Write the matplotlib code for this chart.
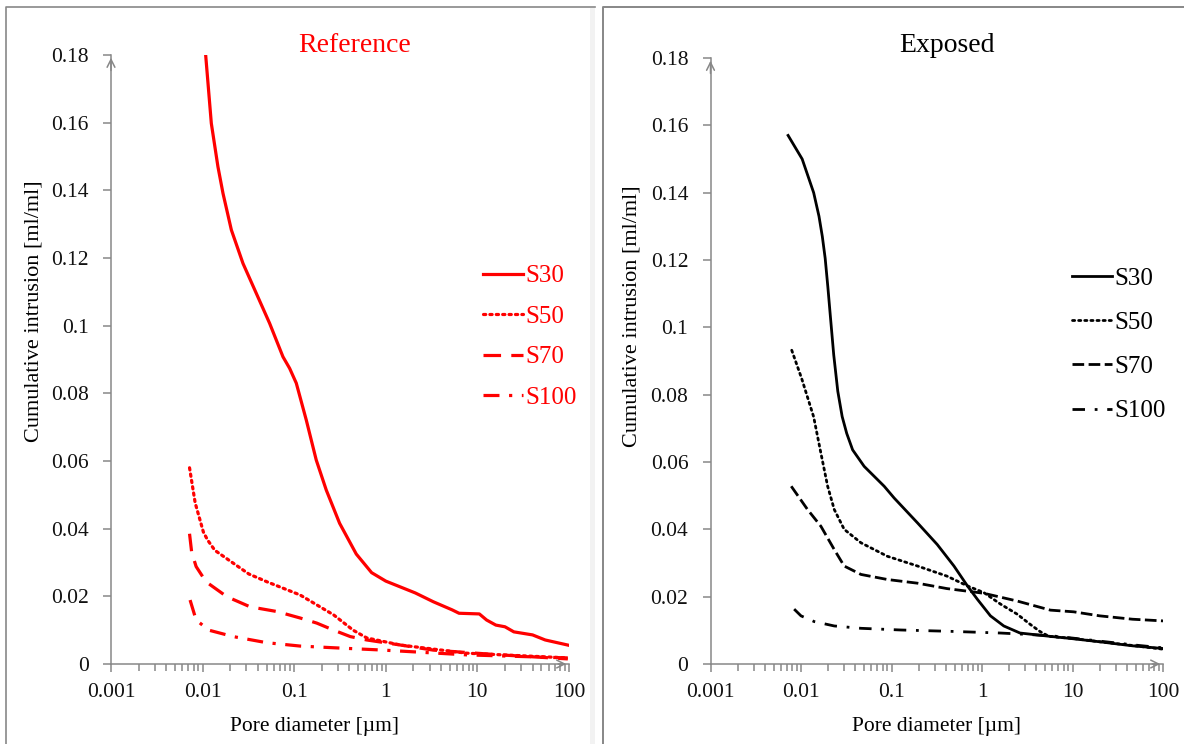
import matplotlib
matplotlib.use("Agg")
import matplotlib.pyplot as plt
from matplotlib.patches import Rectangle
from matplotlib.lines import Line2D
from matplotlib.ticker import LogLocator, FixedLocator, FuncFormatter, NullFormatter

plt.rcParams['font.family'] = ['Liberation Serif', 'DejaVu Serif']

# ---- Reference (red) ----
ref_s30_x = [0.0108, 0.01245, 0.0147, 0.0167, 0.0206, 0.0276, 0.0385, 0.0539, 0.0754, 0.0891,
             0.1054, 0.1355, 0.174, 0.224, 0.313, 0.476, 0.7, 1.0, 2.1, 3.3, 5.3, 6.3, 10.5,
             12.6, 15.9, 20, 25, 40, 55, 97]
ref_s30_y = [0.18, 0.1598, 0.147, 0.1391, 0.1283, 0.1184, 0.1096, 0.1007, 0.0908, 0.0874,
             0.083, 0.0721, 0.0603, 0.0514, 0.0416, 0.0325, 0.027, 0.0245, 0.021, 0.0184,
             0.016, 0.015, 0.0148, 0.013, 0.0115, 0.011, 0.0095, 0.0086, 0.0071, 0.0056]

ref_s50_x = [0.0072, 0.0083, 0.0102, 0.0113, 0.0136, 0.0216, 0.032, 0.0504, 0.116, 0.27,
             0.44, 0.62, 1.45, 7.6, 97]
ref_s50_y = [0.058, 0.0476, 0.039, 0.0367, 0.0336, 0.0298, 0.0266, 0.0243, 0.0204, 0.0145,
             0.010, 0.0077, 0.0056, 0.0032, 0.0018]

ref_s70_x = [0.0072, 0.0076, 0.0085, 0.0109, 0.0184, 0.033, 0.065, 0.116, 0.176, 0.27,
             0.41, 0.62, 1.45, 3.3, 17.7, 97]
ref_s70_y = [0.0385, 0.033, 0.0288, 0.0243, 0.0199, 0.0169, 0.0155, 0.0136, 0.0121, 0.010,
             0.0081, 0.0071, 0.0056, 0.0041, 0.0027, 0.0015]

ref_s100_x = [0.0073, 0.0085, 0.0117, 0.0216, 0.05, 0.116, 0.27, 0.95, 7.6, 97]
ref_s100_y = [0.0189, 0.013, 0.010, 0.0081, 0.0063, 0.0053, 0.0048, 0.0041, 0.0027, 0.0018]

# ---- Exposed (black) ----
exp_s30_x = [0.0072, 0.0103, 0.0138, 0.0158, 0.0172, 0.0185, 0.0198, 0.021, 0.023, 0.0255,
             0.0285, 0.032, 0.0372, 0.0499, 0.083, 0.107, 0.194, 0.32, 0.49, 0.69, 0.89,
             1.24, 1.74, 2.63, 5.7, 9.4, 20, 46, 100]
exp_s30_y = [0.157, 0.150, 0.140, 0.133, 0.127, 0.1205, 0.112, 0.104, 0.0918, 0.081,
             0.0735, 0.0685, 0.0636, 0.0587, 0.0528, 0.0493, 0.0419, 0.0355, 0.0291, 0.0232,
             0.0192, 0.0143, 0.0113, 0.0092, 0.0082, 0.0076, 0.0066, 0.0054, 0.0046]

exp_s50_x = [0.0079, 0.0102, 0.0138, 0.0166, 0.0197, 0.0233, 0.030, 0.046, 0.090, 0.194,
             0.41, 0.69, 1.05, 1.6, 2.45, 3.4, 4.4, 5.5, 10, 20, 46, 100]
exp_s50_y = [0.0932, 0.0847, 0.0734, 0.0626, 0.0528, 0.0459, 0.040, 0.036, 0.032, 0.0291,
             0.0261, 0.0232, 0.0212, 0.0178, 0.0148, 0.0118, 0.0096, 0.0082, 0.0076, 0.0066,
             0.0055, 0.0044]

exp_s70_x = [0.0078, 0.0118, 0.0166, 0.0233, 0.030, 0.046, 0.090, 0.194, 0.41, 1.05, 2.45,
             5.7, 10.3, 20, 46, 100]
exp_s70_y = [0.0528, 0.0459, 0.0409, 0.034, 0.0291, 0.0266, 0.0251, 0.024, 0.0224, 0.021,
             0.0187, 0.016, 0.0155, 0.0143, 0.0133, 0.0128]

exp_s100_x = [0.0084, 0.010, 0.014, 0.0233, 0.046, 0.127, 0.45, 1.6, 2.63, 5.7, 10, 20, 46, 100]
exp_s100_y = [0.0163, 0.0143, 0.0126, 0.0113, 0.0106, 0.0101, 0.0097, 0.0092, 0.0089, 0.0084,
              0.0077, 0.0068, 0.0057, 0.0048]

labels = ["S30", "S50", "S70", "S100"]
y_ticks = [0, 0.02, 0.04, 0.06, 0.08, 0.1, 0.12, 0.14, 0.16, 0.18]
x_ticks = [0.001, 0.01, 0.1, 1, 10, 100]

axis_grey = "#878787"

W, H = 1184, 744
fig = plt.figure(figsize=(W / 100, H / 100), dpi=100)

# chart area frames (left panel: top + left edge, light strip on the right)
fig.patches.append(Rectangle((590 / W, 0), 5 / W, 1 - 8 / H, transform=fig.transFigure,
                             facecolor="#F2F2F2", edgecolor="none"))
fig.lines.append(Line2D([6 / W, 6 / W, 595 / W], [0, 1 - 7 / H, 1 - 7 / H],
                        transform=fig.transFigure, color=axis_grey, lw=1.2))
fig.lines.append(Line2D([603 / W, 603 / W, 1], [0, 1 - 7 / H, 1 - 7 / H],
                        transform=fig.transFigure, color=axis_grey, lw=1.4))


def fmt(v, pos):
    return "%g" % v


def setup_axes(ax):
    ax.set_xscale("log")
    ax.set_xlim(0.001, 100)
    ax.set_ylim(0, 0.18)
    for s in ["top", "right"]:
        ax.spines[s].set_visible(False)
    for s in ["left", "bottom"]:
        ax.spines[s].set_color(axis_grey)
        ax.spines[s].set_linewidth(1.1)
    ax.yaxis.set_major_locator(FixedLocator(y_ticks))
    ax.yaxis.set_major_formatter(FuncFormatter(fmt))
    ax.xaxis.set_major_locator(FixedLocator(x_ticks))
    ax.xaxis.set_major_formatter(FuncFormatter(fmt))
    ax.xaxis.set_minor_locator(LogLocator(base=10, subs=range(2, 10)))
    ax.xaxis.set_minor_formatter(NullFormatter())
    ax.tick_params(which="both", direction="out", color=axis_grey, width=1.1, labelsize=15.5,
                   labelcolor="#111111")
    ax.tick_params(which="major", length=6, pad=8)
    ax.tick_params(which="minor", length=5)
    ax.tick_params(axis="y", pad=10)
    # arrow heads at the axis ends
    ax.annotate("", xy=(0, 1.0), xytext=(0, 0.97), xycoords="axes fraction",
                arrowprops=dict(arrowstyle="->", color=axis_grey, lw=1.1, mutation_scale=14),
                annotation_clip=False)
    ax.annotate("", xy=(1.0, 0), xytext=(0.97, 0), xycoords="axes fraction",
                arrowprops=dict(arrowstyle="->", color=axis_grey, lw=1.1, mutation_scale=14),
                annotation_clip=False)


# ---- left panel ----
ax1 = fig.add_axes([111 / W, 1 - 664 / H, 458 / W, 609 / H])
setup_axes(ax1)
red = "#FF0000"
ax1.plot(ref_s30_x, ref_s30_y, color=red, lw=2.3, label=labels[0])
ax1.plot(ref_s50_x, ref_s50_y, color=red, lw=2.3, linestyle=(0, (0.7, 1.3)),
         dash_capstyle="round", label=labels[1])
ax1.plot(ref_s70_x, ref_s70_y, color=red, lw=2.3, linestyle=(0, (5.5, 3.2)), label=labels[2])
ax1.plot(ref_s100_x, ref_s100_y, color=red, lw=2.3, linestyle=(0, (5, 3, 1, 3)),
         label=labels[3])
ax1.legend(loc="center left", bbox_to_anchor=(0.812, 0.537), frameon=False,
           fontsize=18, handlelength=1.6, handletextpad=0.1, labelspacing=0.72,
           borderpad=0, borderaxespad=0, labelcolor=red)

# ---- right panel ----
ax2 = fig.add_axes([710.5 / W, 1 - 664 / H, 452.5 / W, 606 / H])
setup_axes(ax2)
k = "#000000"
ax2.plot(exp_s30_x, exp_s30_y, color=k, lw=2.0, label=labels[0])
ax2.plot(exp_s50_x, exp_s50_y, color=k, lw=2.0, linestyle=(0, (0.8, 1.4)),
         dash_capstyle="round", label=labels[1])
ax2.plot(exp_s70_x, exp_s70_y, color=k, lw=2.0, linestyle=(0, (4.2, 1.6)), label=labels[2])
ax2.plot(exp_s100_x, exp_s100_y, color=k, lw=2.0, linestyle=(0, (4.5, 3.5, 1, 3.5)),
         label=labels[3])
ax2.legend(loc="center left", bbox_to_anchor=(0.798, 0.527), frameon=False,
           fontsize=18, handlelength=1.6, handletextpad=0.1, labelspacing=0.87,
           borderpad=0, borderaxespad=0)

# titles and axis labels
fig.text(355 / W, 1 - 45 / H, "Reference", color=red, fontsize=20, ha="center", va="center")
fig.text(947 / W, 1 - 45 / H, "Exposed", color="black", fontsize=20, ha="center", va="center")
fig.text(34 / W, 1 - 311 / H, "Cumulative intrusion [ml/ml]", rotation=90, fontsize=16,
         ha="center", va="center")
fig.text(632 / W, 1 - 316 / H, "Cumulative intrusion [ml/ml]", rotation=90, fontsize=16,
         ha="center", va="center")
fig.text(314 / W, 1 - 727 / H, "Pore diameter [\u00b5m]", fontsize=15.5, ha="center", va="center")
fig.text(936 / W, 1 - 727 / H, "Pore diameter [\u00b5m]", fontsize=15.5, ha="center", va="center")

fig.savefig("out.png", dpi=100)
